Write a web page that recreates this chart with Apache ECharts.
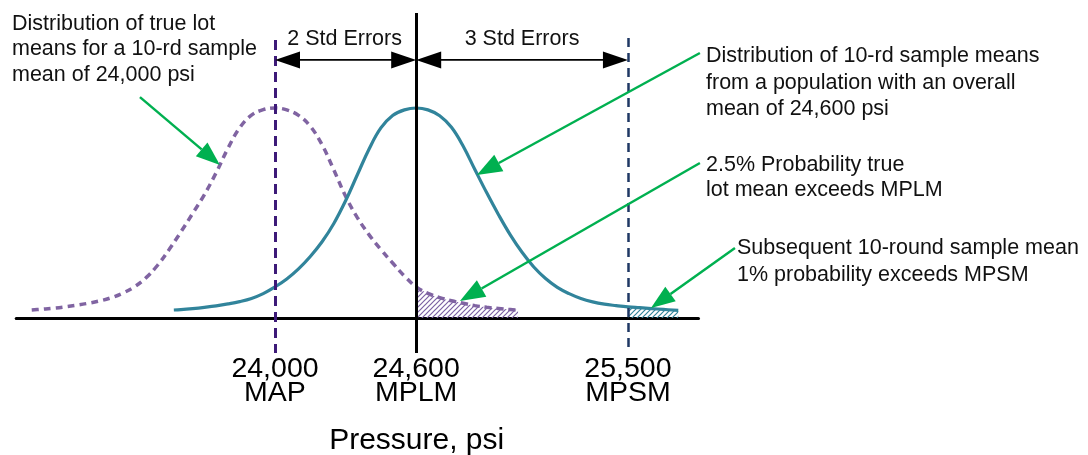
<!DOCTYPE html>
<html>
<head>
<meta charset="utf-8">
<script src="https://cdn.jsdelivr.net/npm/echarts@6/dist/echarts.min.js"></script>
<style>
html,body{margin:0;padding:0;background:#fff;}
#c{width:1088px;height:455px;}
</style>
</head>
<body>
<div id="c"></div>
<script>
// ---- data (pressure in psi, relative density with peak = 100) ----
const sampleMeanX = [23570, 23600, 23650, 23700, 23750, 23800, 23850, 23900, 23950, 24000, 24050, 24100, 24150, 24200, 24250, 24300, 24350, 24400, 24450, 24500, 24550, 24600, 24650, 24700, 24750, 24800, 24850, 24900, 24950, 25000, 25050, 25100, 25150, 25200, 25250, 25300, 25350, 25400, 25450, 25500, 25550, 25600, 25650, 25714];
const sampleMeanY = [3.8, 4.0, 4.5, 5.1, 5.8, 6.7, 7.8, 9.3, 11.6, 14.8, 18.6, 23.4, 29.3, 36.3, 45.0, 55.8, 68.2, 80.5, 90.5, 96.4, 99.1, 100, 99.1, 96.3, 90.8, 81.8, 70.6, 59.6, 49.2, 39.6, 31.3, 24.3, 18.8, 14.6, 11.6, 9.3, 7.7, 6.6, 5.9, 5.3, 4.9, 4.5, 4.1, 3.6];

const trueLotX = [22966, 23000, 23050, 23100, 23150, 23200, 23250, 23300, 23350, 23400, 23450, 23500, 23550, 23600, 23650, 23700, 23750, 23800, 23850, 23900, 23950, 24000, 24050, 24100, 24150, 24200, 24250, 24300, 24350, 24400, 24450, 24500, 24550, 24600, 24650, 24700, 24750, 24800, 24850, 24900, 24950, 25000, 25033];
const trueLotY = [3.8, 4.1, 4.6, 5.2, 6.0, 6.9, 8.0, 9.5, 11.7, 14.7, 19.0, 25.0, 32.6, 41.0, 49.8, 58.8, 69.2, 80.8, 90.6, 96.6, 99.2, 100, 99.1, 96.5, 91.3, 82.5, 70.5, 58.0, 47.8, 39.6, 32.6, 26.2, 20.0, 14.8, 11.7, 9.7, 8.2, 7.0, 5.9, 5.1, 4.5, 4.0, 3.8];

const tickValues = [24000, 24600, 25500];
const tickLabels = ['24,000\nMAP', '24,600\nMPLM', '25,500\nMPSM'];

const MAP = 24000, MPLM = 24600, MPSM = 25500;

const zip = (xs, ys) => xs.map((x, i) => [x, ys[i]]);
const solidData = zip(sampleMeanX, sampleMeanY);
const dashedData = zip(trueLotX, trueLotY);
const dashedTail = dashedData.filter(p => p[0] >= MPLM);
const solidTail = solidData.filter(p => p[0] >= MPSM);

function hatch(color) {
  const c = document.createElement('canvas');
  c.width = 5; c.height = 5;
  const g = c.getContext('2d');
  g.strokeStyle = color; g.lineWidth = 1.2;
  g.beginPath();
  g.moveTo(0, 5); g.lineTo(5, 0);
  g.moveTo(-2.5, 2.5); g.lineTo(2.5, -2.5);
  g.moveTo(2.5, 7.5); g.lineTo(7.5, 2.5);
  g.stroke();
  return c;
}

const FONT = '"Liberation Sans", Arial, sans-serif';
const chart = echarts.init(document.getElementById('c'));
const SM = 0.4;

chart.setOption({
  animation: false,
  grid: { left: 16.2, right: 389.5, top: 3, bottom: 95 },
  xAxis: {
    type: 'value', min: 22900, max: 25800,
    axisLine: { onZero: true, lineStyle: { color: '#000', width: 3 } },
    axisTick: { show: false },
    splitLine: { show: false },
    axisLabel: { show: false }
  },
  yAxis: { type: 'value', min: -20, max: 150, show: false, splitLine: { show: false } },
  series: [
    {
      type: 'line', data: dashedTail, showSymbol: false, smooth: SM,
      lineStyle: { width: 0, opacity: 0 },
      areaStyle: { color: { image: hatch('#7b61a3'), repeat: 'repeat' }, opacity: 1 },
      z: 1
    },
    {
      type: 'line', data: solidTail, showSymbol: false, smooth: SM,
      lineStyle: { width: 0, opacity: 0 },
      areaStyle: { color: { image: hatch('#31849b'), repeat: 'repeat' }, opacity: 1 },
      z: 1
    },
    {
      type: 'line', data: dashedData, showSymbol: false, smooth: SM,
      lineStyle: { color: '#8064a2', width: 3.5, type: [7, 5] },
      z: 3
    },
    {
      type: 'line', data: solidData, showSymbol: false, smooth: SM,
      lineStyle: { color: '#31849b', width: 3.2 },
      z: 4,
      markLine: {
        silent: true, symbol: 'none', label: { show: false },
        data: [
          [{ coord: [MAP, 132.4], lineStyle: { color: '#3d1a78', width: 3, type: [10, 6] } }, { coord: [MAP, -16.7] }],
          [{ coord: [MPLM, 145.2], lineStyle: { color: '#000', width: 3, type: 'solid' } }, { coord: [MPLM, -16.7] }],
          [{ coord: [MPSM, 133.3], lineStyle: { color: '#1f3864', width: 2.5, type: [9, 6] } }, { coord: [MPSM, -16.7] }]
        ]
      }
    }
  ]
});

// ---- annotations (anchored in data coordinates) ----
const P = (x, y) => chart.convertToPixel({ gridIndex: 0 }, [x, y]);
function arrow(S, T, color, width, len, head) {
  const dx = T[0] - S[0], dy = T[1] - S[1];
  const d = Math.hypot(dx, dy), ux = dx / d, uy = dy / d;
  const bx = T[0] - ux * len, by = T[1] - uy * len;
  const nx = -uy, ny = ux;
  return [
    { type: 'line', shape: { x1: S[0], y1: S[1], x2: bx, y2: by }, style: { stroke: color, lineWidth: width }, z: 20 },
    { type: 'polygon', shape: { points: [[T[0], T[1]], [bx + nx * head / 2, by + ny * head / 2], [bx - nx * head / 2, by - ny * head / 2]] }, style: { fill: color }, z: 20 }
  ];
}
function dimArrow(xa, xb, v) {
  const A = P(xa, v), B = P(xb, v);
  const out = [{ type: 'line', shape: { x1: A[0] + 20, y1: A[1], x2: B[0] - 20, y2: B[1] }, style: { stroke: '#000', lineWidth: 1.6 }, z: 20 }];
  out.push({ type: 'polygon', shape: { points: [[A[0], A[1]], [A[0] + 25, A[1] - 8.5], [A[0] + 25, A[1] + 8.5]] }, style: { fill: '#000' }, z: 20 });
  out.push({ type: 'polygon', shape: { points: [[B[0], B[1]], [B[0] - 25, B[1] - 8.5], [B[0] - 25, B[1] + 8.5]] }, style: { fill: '#000' }, z: 20 });
  return out;
}
function txt(x, y, text, opts) {
  return {
    type: 'text', x: x, y: y, z: 30,
    style: Object.assign({
      text: text, fill: '#111', fontSize: 21.5, fontFamily: FONT,
      align: 'left', textAlign: 'left', verticalAlign: 'top', textVerticalAlign: 'top', lineHeight: 26
    }, opts || {})
  };
}

const GREEN = '#00b050';
const dimV = 122.9;
let g = [];
g = g.concat(dimArrow(MAP, MPLM, dimV), dimArrow(MPLM, MPSM, dimV));
g = g.concat(arrow(P(23426, 105.2), P(23766, 72.9), GREEN, 2.5, 24, 18));
g = g.concat(arrow(P(25806, 126.2), P(24858, 68.1), GREEN, 2.5, 25, 19));
g = g.concat(arrow(P(25806, 73.8), P(24786, 8.1), GREEN, 2.5, 25, 19));
g = g.concat(arrow(P(25955, 33.3), P(25598, 4.8), GREEN, 2.5, 24, 18));

const c1 = P((MAP + MPLM) / 2, dimV), c2 = P((MPLM + MPSM) / 2, dimV);
g.push(txt(c1[0] - 1, 39, '2 Std Errors', { align: 'center', textAlign: 'center', verticalAlign: 'middle', textVerticalAlign: 'middle' }));
g.push(txt(c2[0], 39, '3 Std Errors', { align: 'center', textAlign: 'center', verticalAlign: 'middle', textVerticalAlign: 'middle' }));
g.push(txt(12, 11, 'Distribution of true lot\nmeans for a 10-rd sample\nmean of 24,000 psi', { lineHeight: 25.7 }));
g.push(txt(706, 43, 'Distribution of 10-rd sample means\nfrom a population with an overall\nmean of 24,600 psi', { lineHeight: 26.6 }));
g.push(txt(706, 153, '2.5% Probability true\nlot mean exceeds MPLM', { lineHeight: 25 }));
g.push(txt(737, 235, 'Subsequent 10-round sample mean\n1% probability exceeds MPSM', { lineHeight: 26.6 }));

// tick labels at the axis values
tickValues.forEach((v, i) => {
  const p = P(v, 0);
  g.push(txt(p[0], 357, tickLabels[i], { fontSize: 28.5, lineHeight: 24, align: 'center', textAlign: 'center', fill: '#000' }));
});
const pm = P(MPLM, 0);
g.push(txt(pm[0] + 0.5, 441, 'Pressure, psi', { fontSize: 30, align: 'center', textAlign: 'center', verticalAlign: 'middle', textVerticalAlign: 'middle', fill: '#000' }));

chart.setOption({ graphic: g });
</script>
</body>
</html>
